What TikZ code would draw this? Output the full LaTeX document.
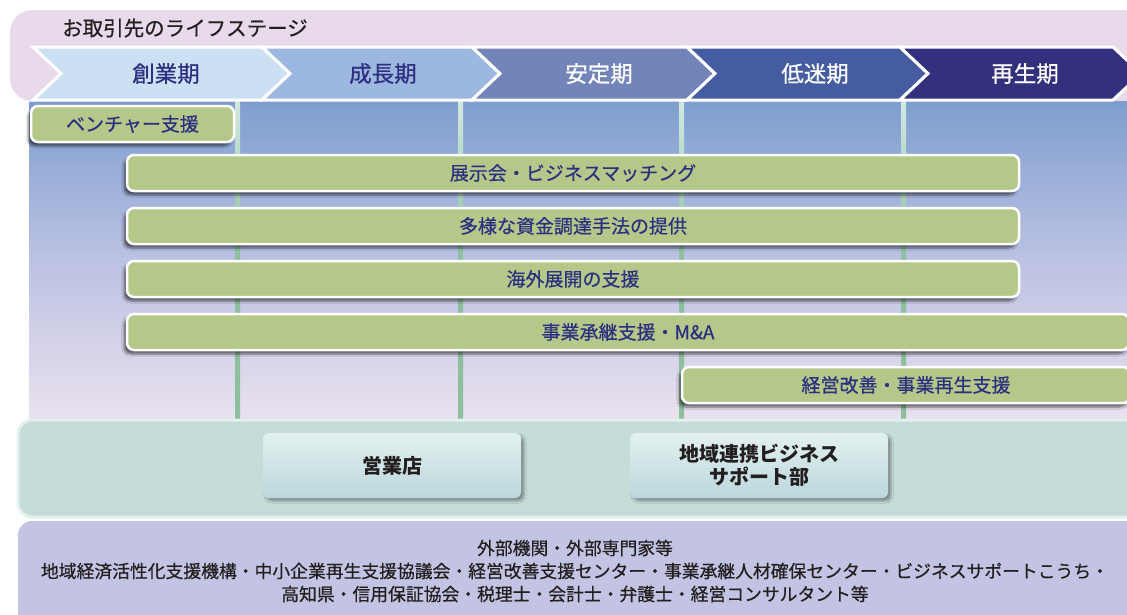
\documentclass[tikz,border=0pt]{standalone}
\usepackage{fontspec}
\setmainfont{Noto Sans CJK JP}
\newfontfamily\medfont{Noto Sans CJK JP}[FakeBold=0.6]
\usetikzlibrary{shadows,shadows.blur}

\definecolor{pinkband}{HTML}{E8DAEB}
\definecolor{stageA}{HTML}{CCE0F4}
\definecolor{stageB}{HTML}{9DB8E0}
\definecolor{stageC}{HTML}{7385B8}
\definecolor{stageD}{HTML}{455DA0}
\definecolor{stageE}{HTML}{33307E}
\definecolor{navytext}{HTML}{2E2F80}
\definecolor{titletext}{HTML}{231F20}
\definecolor{barfill}{HTML}{B4C889}
\definecolor{tealpanel}{HTML}{C5DCD9}
\definecolor{tealedge}{HTML}{E2F1EE}
\definecolor{boxtop}{HTML}{E3F1EE}
\definecolor{boxbottom}{HTML}{BBD7DE}
\definecolor{lavpanel}{HTML}{C3C4E3}
\definecolor{bluetop}{HTML}{7E9ECF}
\definecolor{bluemid}{HTML}{BCC2E3}
\definecolor{blueend}{HTML}{E9E1EE}
\definecolor{gridline}{HTML}{8DBF9E}
\definecolor{gridtop}{HTML}{D2E9E0}

\begin{document}
\begin{tikzpicture}[x=1pt,y=-1pt]
    \tikzset{supportbar/.style={rounded corners=7pt, fill=barfill, draw=white, line width=2.5pt,
        minimum height=36pt, inner sep=0pt, text=navytext, font=\medfont\fontsize{19}{22}\selectfont,
        blur shadow={shadow xshift=-3pt, shadow yshift=-4pt, shadow opacity=55, shadow blur steps=6}}}
    \tikzset{officebox/.style={rounded corners=6pt, top color=boxtop, bottom color=boxbottom,
        minimum width=258pt, minimum height=65pt, align=center, text=titletext,
        font=\fontsize{20}{23}\selectfont\bfseries,
        blur shadow={shadow xshift=3pt, shadow yshift=-3pt, shadow opacity=35, shadow blur steps=5}}}
    \tikzset{stagelabel/.style={font=\medfont\fontsize{22.5}{26}\selectfont}}
    \tikzset{divider/.style={top color=gridtop, bottom color=gridline, middle color=gridline}}
    % \tikzset{stagelabel/.append style={font=\bfseries}}

    \useasboundingbox (0,0) rectangle (1127,614);
    \clip (0,0) rectangle (1127,614);

    % life stage band
    \fill[pinkband, rounded corners=22pt] (10,10) rectangle (1150,101);
    \node[anchor=west, inner sep=0pt, text=titletext, font=\medfont\fontsize{20.5}{24}\selectfont] (lifestage) at (62,28) {お取引先のライフステージ};

    % background
    \shade[top color=bluetop, bottom color=blueend, middle color=bluemid] (29,101) rectangle (1150,419);
    \shade[divider] (235,101) rectangle (240,419);
    \shade[divider] (458,101) rectangle (463,419);
    \shade[divider] (679,101) rectangle (684,419);
    \shade[divider] (901,101) rectangle (906,419);

    % stages
    \filldraw[fill=stageA, draw=white, line width=3pt] (33,47) -- (262,47) -- (290,73.5) -- (262,100) -- (33,100) -- (61,73.5) -- cycle;
    \filldraw[fill=stageB, draw=white, line width=3pt] (262,47) -- (472,47) -- (500,73.5) -- (472,100) -- (262,100) -- (290,73.5) -- cycle;
    \filldraw[fill=stageC, draw=white, line width=3pt] (472,47) -- (687,47) -- (715,73.5) -- (687,100) -- (472,100) -- (500,73.5) -- cycle;
    \filldraw[fill=stageD, draw=white, line width=3pt] (687,47) -- (900,47) -- (928,73.5) -- (900,100) -- (687,100) -- (715,73.5) -- cycle;
    \filldraw[fill=stageE, draw=white, line width=3pt] (900,47) -- (1113,47) -- (1141,73.5) -- (1113,100) -- (900,100) -- (928,73.5) -- cycle;
    \node[stagelabel, text=navytext] (startup) at (166,73.5) {創業期};
    \node[stagelabel, text=navytext] (growth) at (383,73.5) {成長期};
    \node[stagelabel, text=white] (stable) at (599,73.5) {安定期};
    \node[stagelabel, text=white] (slump) at (815,73.5) {低迷期};
    \node[stagelabel, text=white] (revival) at (1025,73.5) {再生期};

    % support menus
    \node[supportbar, minimum width=203pt] (venture) at (132.5,124) {ベンチャー支援};
    \node[supportbar, minimum width=892pt] (matching) at (573,173) {展示会・ビジネスマッチング};
    \node[supportbar, minimum width=892pt] (funding) at (573,226) {多様な資金調達手法の提供};
    \node[supportbar, minimum width=892pt] (overseas) at (573,279) {海外展開の支援};
    \node[supportbar, minimum width=1002pt] (succession) at (628,332) {事業承継支援・M\&A};
    \node[supportbar, minimum width=448pt] (turnaround) at (906,385) {経営改善・事業再生支援};

    % in-house
    \filldraw[fill=tealpanel, draw=tealedge, line width=3pt, rounded corners=14pt] (18,420) rectangle (1150,517);
    \node[officebox] (branch) at (392,465.5) {営業店};
    \node[officebox] (bizsupport) at (759,465.5) {地域連携ビジネス\\サポート部};

    % outside partners
    \fill[lavpanel, rounded corners=14pt] (18,521) rectangle (1150,640);
    \node[align=center, text=titletext, font=\medfont\fontsize{17.8}{23}\selectfont] (partners) at (575,571)
        {外部機関・外部専門家等\\
         地域経済活性化支援機構・中小企業再生支援協議会・経営改善支援センター・事業承継人材確保センター・ビジネスサポートこうち・\\
         高知県・信用保証協会・税理士・会計士・弁護士・経営コンサルタント等};
\end{tikzpicture}
\end{document}
